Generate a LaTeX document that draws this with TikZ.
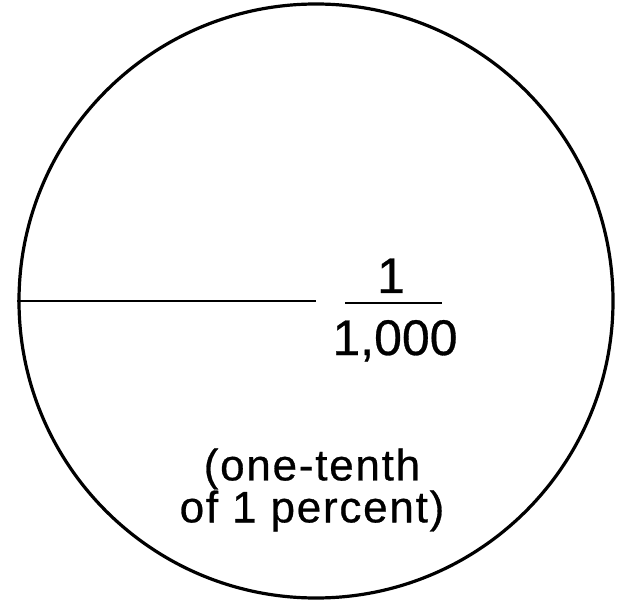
\documentclass[tikz,border=0pt]{standalone}
\usepackage{fontspec}
\setmainfont{Liberation Sans}[FakeBold=0.6]
\newfontfamily\notefont{Liberation Sans}[LetterSpace=4.0, FakeBold=0.6]
\usepackage{tikz}
\usetikzlibrary{positioning}

\begin{document}
\begin{tikzpicture}[x=1pt, y=-1pt,
  ring/.style={draw, circle, line width=3.2pt, minimum size=594pt, inner sep=0pt},
  radius line/.style={line width=1.2pt},
  fraction bar/.style={line width=2.2pt},
  bignum/.style={font=\fontsize{50}{60}\selectfont, inner sep=0pt, anchor=base},
  note/.style={font=\notefont\fontsize{44}{39}\selectfont, align=center, inner sep=0pt}]
  \useasboundingbox (0,0) rectangle (623,601);
  \node[ring] (disc) at (316,301) {};
  \draw[radius line] (disc.west) -- (disc.center);
  \node[bignum] (num) at (391,293) {1};
  \node[bignum] (den) at (395,355) {1,000};
  \draw[fraction bar] (345,303) -- (442,303);
  \node[note] (share) at (312,490) {(one-tenth\\of 1 percent)};
\end{tikzpicture}
\end{document}
